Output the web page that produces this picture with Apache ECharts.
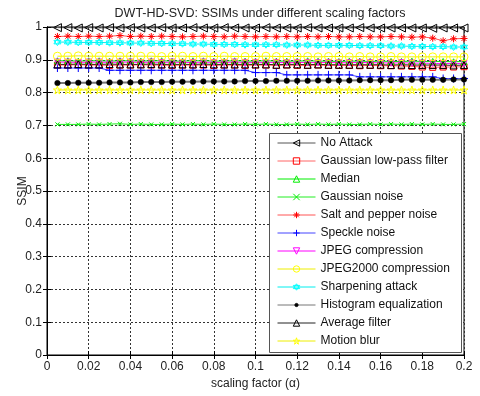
<!DOCTYPE html>
<html><head><meta charset="utf-8">
<script src="https://cdn.jsdelivr.net/npm/echarts@6/dist/echarts.min.js"></script>
<style>html,body{margin:0;padding:0;background:#fff}#c{width:480px;height:396px}</style>
</head><body><div id="c"></div>
<script>
// scaling factor alpha values (x)
const alphas = [0.005,0.010,0.015,0.020,0.025,0.030,0.035,0.040,0.045,0.050,0.055,0.060,0.065,0.070,0.075,0.080,0.085,0.090,0.095,0.100,0.105,0.110,0.115,0.120,0.125,0.130,0.135,0.140,0.145,0.150,0.155,0.160,0.165,0.170,0.175,0.180,0.185,0.190,0.195,0.200];
const xTicks = [0,0.02,0.04,0.06,0.08,0.1,0.12,0.14,0.16,0.18,0.2];
const yTicks = [0,0.1,0.2,0.3,0.4,0.5,0.6,0.7,0.8,0.9,1];

const noAttack   = [0.998,0.998,0.997,0.998,0.997,0.998,0.997,0.998,0.997,0.997,0.998,0.997,0.997,0.998,0.997,0.997,0.998,0.997,0.997,0.997,0.998,0.997,0.997,0.997,0.998,0.997,0.997,0.997,0.997,0.998,0.997,0.997,0.997,0.997,0.997,0.997,0.996,0.997,0.997,0.997];
const gaussLP    = [0.884,0.884,0.885,0.884,0.884,0.883,0.884,0.884,0.885,0.884,0.884,0.883,0.884,0.884,0.884,0.883,0.884,0.884,0.883,0.884,0.884,0.883,0.884,0.883,0.883,0.884,0.883,0.883,0.883,0.882,0.883,0.882,0.882,0.881,0.880,0.878,0.877,0.878,0.878,0.879];
const median     = [0.897,0.897,0.896,0.897,0.897,0.896,0.897,0.897,0.896,0.897,0.897,0.896,0.896,0.897,0.897,0.896,0.896,0.897,0.896,0.896,0.897,0.896,0.896,0.896,0.897,0.896,0.896,0.895,0.896,0.896,0.895,0.896,0.895,0.895,0.896,0.895,0.895,0.895,0.894,0.895];
const gaussNoise = [0.703,0.703,0.703,0.704,0.703,0.704,0.705,0.703,0.704,0.703,0.703,0.704,0.703,0.704,0.703,0.704,0.703,0.703,0.704,0.703,0.704,0.703,0.703,0.704,0.703,0.704,0.703,0.704,0.703,0.703,0.704,0.703,0.704,0.703,0.704,0.703,0.704,0.703,0.703,0.704];
const saltPepper = [0.971,0.972,0.971,0.972,0.971,0.972,0.974,0.971,0.972,0.971,0.972,0.971,0.970,0.971,0.972,0.971,0.970,0.972,0.971,0.970,0.971,0.970,0.971,0.970,0.971,0.970,0.971,0.970,0.970,0.971,0.970,0.970,0.971,0.970,0.969,0.970,0.966,0.958,0.964,0.965];
const speckle    = [0.875,0.875,0.875,0.875,0.875,0.868,0.868,0.868,0.868,0.868,0.868,0.868,0.868,0.868,0.868,0.868,0.868,0.868,0.868,0.861,0.861,0.861,0.854,0.854,0.854,0.854,0.854,0.854,0.854,0.848,0.848,0.848,0.848,0.848,0.848,0.848,0.848,0.843,0.843,0.843];
const jpeg       = [0.893,0.893,0.892,0.893,0.893,0.892,0.893,0.893,0.892,0.893,0.892,0.893,0.892,0.892,0.893,0.892,0.892,0.893,0.892,0.892,0.892,0.892,0.891,0.892,0.892,0.891,0.892,0.891,0.891,0.892,0.891,0.891,0.890,0.891,0.890,0.890,0.889,0.889,0.889,0.889];
const jpeg2000   = [0.911,0.911,0.912,0.911,0.911,0.911,0.911,0.911,0.911,0.911,0.910,0.911,0.911,0.910,0.911,0.910,0.911,0.910,0.910,0.910,0.911,0.910,0.910,0.910,0.910,0.909,0.910,0.910,0.909,0.910,0.909,0.909,0.910,0.909,0.909,0.909,0.909,0.909,0.909,0.909];
const sharpen    = [0.954,0.954,0.953,0.953,0.953,0.952,0.952,0.951,0.951,0.950,0.950,0.949,0.949,0.948,0.948,0.947,0.947,0.947,0.946,0.946,0.946,0.946,0.945,0.945,0.945,0.944,0.944,0.944,0.944,0.943,0.943,0.943,0.942,0.942,0.941,0.941,0.940,0.940,0.939,0.939];
const histEq     = [0.829,0.829,0.830,0.830,0.830,0.831,0.831,0.831,0.832,0.832,0.832,0.833,0.833,0.833,0.834,0.834,0.834,0.834,0.835,0.835,0.835,0.836,0.836,0.836,0.836,0.837,0.837,0.837,0.837,0.838,0.838,0.838,0.838,0.839,0.839,0.839,0.839,0.839,0.840,0.840];
const avgFilter  = [0.886,0.886,0.887,0.886,0.886,0.887,0.886,0.886,0.886,0.887,0.886,0.886,0.886,0.886,0.887,0.886,0.886,0.886,0.886,0.886,0.886,0.885,0.886,0.886,0.885,0.886,0.885,0.885,0.885,0.885,0.885,0.885,0.884,0.885,0.884,0.884,0.884,0.884,0.883,0.884];
const motionBlur = [0.808,0.808,0.808,0.808,0.808,0.808,0.808,0.808,0.808,0.808,0.808,0.808,0.808,0.808,0.808,0.808,0.808,0.808,0.808,0.808,0.808,0.808,0.808,0.808,0.808,0.808,0.808,0.808,0.808,0.808,0.808,0.808,0.808,0.808,0.808,0.808,0.808,0.808,0.808,0.808];

const seriesNames = ['No Attack','Gaussian low-pass filter','Median','Gaussian noise','Salt and pepper noise','Speckle noise','JPEG compression','JPEG2000 compression','Sharpening attack','Histogram equalization','Average filter','Motion blur'];
const seriesData = [noAttack,gaussLP,median,gaussNoise,saltPepper,speckle,jpeg,jpeg2000,sharpen,histEq,avgFilter,motionBlur];

const P = {
  triL: 'path://M0,5L10,0L10,10Z',
  square: 'path://M0,0L10,0L10,10L0,10Z',
  triU: 'path://M5,0L10,10L0,10Z',
  xmark: 'path://M0,0L10,10M10,0L0,10',
  star: 'path://M5,0L5,10M0,5L10,5M1.5,1.5L8.5,8.5M8.5,1.5L1.5,8.5',
  plus: 'path://M5,0L5,10M0,5L10,5',
  triD: 'path://M0,0L10,0L5,10Z',
  circle: 'path://M10,5A5,5,0,1,1,0,5A5,5,0,1,1,10,5Z',
  hexa: 'path://M5,0L9.33,7.5L0.67,7.5ZM5,10L0.67,2.5L9.33,2.5Z',
  dot: 'path://M0,0M10,10M7.5,5A2.5,2.5,0,1,1,2.5,5A2.5,2.5,0,1,1,7.5,5Z',
  penta: 'path://M5,0L6.12,3.45L9.76,3.45L6.82,5.59L7.94,9.05L5,6.91L2.06,9.05L3.18,5.59L0.24,3.45L3.88,3.45Z'
};
const styles = [
  {c:'#000000', lc:'#555555', s:P.triL, z:8},
  {c:'#ff0000', lc:'#ff6666', s:P.square, z:6},
  {c:'#00ee00', lc:'#00ee00', s:P.triU, z:6},
  {c:'#00ee00', lc:'#22ee22', s:P.xmark, z:4},
  {c:'#ff0000', lc:'#ff5555', s:P.star, z:7},
  {c:'#0000ff', lc:'#4444ff', s:P.plus, z:8},
  {c:'#ff00ff', lc:'#ff00ff', s:P.triD, z:6},
  {c:'#ffff00', lc:'#eeee00', s:P.circle, z:8},
  {c:'#00ffff', lc:'#00eeee', s:P.hexa, z:7},
  {c:'#000000', lc:'#777777', s:P.dot, z:11, fill:true, lw:2},
  {c:'#000000', lc:'#222222', s:P.triU, z:7},
  {c:'#ffff00', lc:'#eeee00', s:P.penta, z:8}
];

const series = seriesNames.map((name,i)=>{
  const st = styles[i];
  return {
    name, type:'line',
    data: alphas.map((a,j)=>[a, seriesData[i][j]]),
    symbol: st.s, symbolSize: st.z, showSymbol:true, showAllSymbol:true,
    lineStyle:{color:st.lc, width: st.lw||1},
    itemStyle: st.fill ? {color:st.c, borderColor:st.c, borderWidth:0.5} : {color:'rgba(0,0,0,0)', borderColor:st.c, borderWidth:1},
    emphasis:{disabled:true}, animation:false, z:2
  };
});

const font = 'Liberation Sans, Arial, sans-serif';
const gridLine = {show:true, lineStyle:{color:'#333', type:[2,2], width:1}};
const chart = echarts.init(document.getElementById('c'), null, {renderer:'canvas'});
chart.setOption({
  animation:false,
  backgroundColor:'#fff',
  title:{text:'DWT-HD-SVD: SSIMs under different scaling factors', left:255, top:2, textAlign:'center',
    textStyle:{fontFamily:font, fontSize:12.5, fontWeight:'normal', color:'#222'}},
  grid:{left:47, right:16, top:27, bottom:41, show:true, borderColor:'#000', borderWidth:1, backgroundColor:'#fff'},
  legend:{orient:'vertical', left:277, top:136, padding:0, itemWidth:38, itemHeight:8, itemGap:4, z:20,
    lineStyle:{width:1}, itemStyle:{borderWidth:1},
    textStyle:{fontFamily:font, fontSize:12, lineHeight:14, color:'#111'},
    data: seriesNames},
  graphic:[{type:'rect', shape:{x:269.5, y:133.5, width:192, height:219}, style:{fill:'#fff', stroke:'#555', lineWidth:1}, z:10}],
  xAxis:[
    {type:'value', min:xTicks[0], max:xTicks[xTicks.length-1], interval:xTicks[1]-xTicks[0],
     name:'scaling factor (α)', nameLocation:'middle', nameGap:23, nameMoveOverlap:false,
     nameTextStyle:{fontFamily:font, fontSize:12, color:'#222'},
     axisLine:{show:true, lineStyle:{color:'#000'}}, axisTick:{show:true, inside:true, length:4, lineStyle:{color:'#000'}},
     axisLabel:{fontFamily:font, fontSize:12, color:'#222', margin:6}, splitLine:gridLine},
    {type:'value', position:'top', min:0, max:0.2, interval:0.02,
     axisLine:{show:true, lineStyle:{color:'#000'}}, axisTick:{show:true, inside:true, length:4, lineStyle:{color:'#000'}},
     axisLabel:{show:false}, splitLine:{show:false}}
  ],
  yAxis:[
    {type:'value', min:yTicks[0], max:yTicks[yTicks.length-1], interval:0.1,
     name:'SSIM', nameLocation:'middle', nameGap:18, nameMoveOverlap:false,
     nameTextStyle:{fontFamily:font, fontSize:12, color:'#222'},
     axisLine:{show:true, lineStyle:{color:'#000'}}, axisTick:{show:true, inside:true, length:4, lineStyle:{color:'#000'}},
     axisLabel:{fontFamily:font, fontSize:12, color:'#222', margin:5}, splitLine:gridLine},
    {type:'value', position:'right', min:0, max:1, interval:0.1,
     axisLine:{show:true, lineStyle:{color:'#000'}}, axisTick:{show:true, inside:true, length:4, lineStyle:{color:'#000'}},
     axisLabel:{show:false}, splitLine:{show:false}}
  ],
  series
});
</script></body></html>
